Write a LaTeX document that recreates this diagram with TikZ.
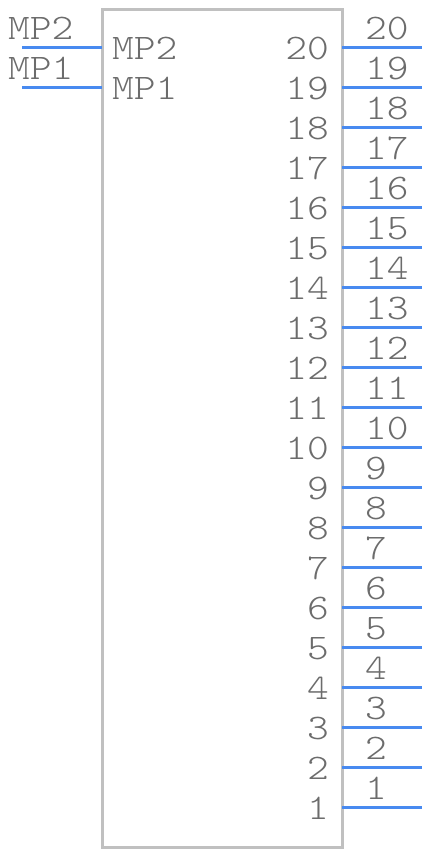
\documentclass[tikz,border=0pt]{standalone}
\usepackage{fontspec}
\setmonofont[FakeStretch=1.15]{lmmonolt10-regular.otf}
\definecolor{pinblue}{RGB}{72,138,240}
\definecolor{boxgray}{RGB}{192,192,192}
\definecolor{txtgray}{RGB}{108,108,108}
\tikzset{
	pinline/.style={pinblue,line width=3pt},
	pinlabel/.style={font=\ttfamily\fontsize{36}{36}\selectfont,text=txtgray,inner sep=0pt},
}

\begin{document}
\begin{tikzpicture}[x=1pt,y=-1pt]
	\useasboundingbox (0,0) rectangle (426,852);
	\draw[boxgray,line width=3pt] (102,9) rectangle (342,847);

	% right side pins
	\foreach \n in {1,...,20} {
		\coordinate (p\n) at (342,{47+40*(20-\n)});
		\coordinate (e\n) at (422,{47+40*(20-\n)});
		\draw[pinline] (p\n) -- (e\n);
		\node[pinlabel,anchor=base west] (o\n) at (365,{39+40*(20-\n)}) {\n};
		\node[pinlabel,anchor=base east] (i\n) at (329,{59+40*(20-\n)}) {\n};
	}

	% mounting pins
	\foreach \m/\y in {2/47,1/87} {
		\coordinate (mp\m) at (102,\y);
		\coordinate (me\m) at (22,\y);
		\draw[pinline] (mp\m) -- (me\m);
		\node[pinlabel,anchor=base west] (mo\m) at (8,\y-8) {MP\m};
		\node[pinlabel,anchor=base west] (mi\m) at (112,\y+12) {MP\m};
	}
\end{tikzpicture}
\end{document}
